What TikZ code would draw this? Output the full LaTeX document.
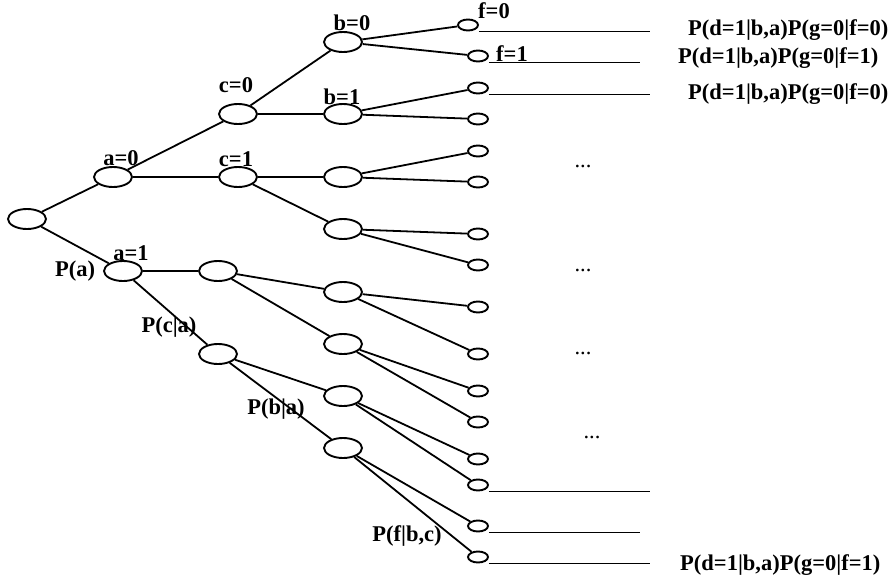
\documentclass[tikz,border=0pt]{standalone}
\usepackage{fontspec}
\setmainfont{Liberation Serif}
\usetikzlibrary{shapes.geometric}
\tikzset{
  bignode/.style={ellipse,draw,line width=1.9pt,minimum width=38pt,minimum height=20pt,inner sep=0pt},
  leaf/.style={ellipse,draw,line width=1.9pt,minimum width=20pt,minimum height=11pt,inner sep=0pt},
  lbl/.style={font=\fontsize{22.5}{26}\selectfont\bfseries,inner sep=0pt},
  dots/.style={font=\fontsize{22.5}{26}\selectfont,inner sep=0pt},
  branch/.style={line width=1.8pt}
}
\begin{document}
\begin{tikzpicture}[x=1pt,y=-1pt]
\useasboundingbox (0,0) rectangle (895,584);

\node[bignode] (r) at (27,219) {};
\node[bignode] (a0) at (113,177) {};
\node[bignode] (a1) at (123,271) {};
\node[bignode] (c0) at (238,114) {};
\node[bignode] (c1) at (238,177) {};
\node[bignode] (d0) at (218,271) {};
\node[bignode] (d1) at (218,354) {};
\node[bignode] (n1) at (343,42) {};
\node[bignode] (n2) at (343,114) {};
\node[bignode] (n3) at (343,177) {};
\node[bignode] (n4) at (343,229) {};
\node[bignode] (n5) at (343,292) {};
\node[bignode] (n6) at (343,344) {};
\node[bignode] (n7) at (343,396) {};
\node[bignode] (n8) at (343,448) {};

\node[leaf] (l1) at (468,25) {};
\node[leaf] (l2) at (478,56) {};
\node[leaf] (l3) at (478,88) {};
\node[leaf] (l4) at (478,119) {};
\node[leaf] (l5) at (478,151) {};
\node[leaf] (l6) at (478,182) {};
\node[leaf] (l7) at (478,234) {};
\node[leaf] (l8) at (478,265) {};
\node[leaf] (l9) at (478,307) {};
\node[leaf] (l10) at (478,354) {};
\node[leaf] (l11) at (478,391) {};
\node[leaf] (l12) at (478,422) {};
\node[leaf] (l13) at (478,459) {};
\node[leaf] (l14) at (478,485) {};
\node[leaf] (l15) at (478,526) {};
\node[leaf] (l16) at (478,557) {};

\draw [branch] (r) -- (a0);
\draw [branch] (r) -- (a1);
\draw [branch] (a0) -- (c0);
\draw [branch] (a0) -- (c1);
\draw [branch] (a1) -- (d0);
\draw [branch] (a1) -- (d1);
\draw [branch] (c0) -- (n1);
\draw [branch] (c0) -- (n2);
\draw [branch] (c1) -- (n3);
\draw [branch] (c1) -- (n4);
\draw [branch] (d0) -- (n5);
\draw [branch] (d0) -- (n6);
\draw [branch] (d1) -- (n7);
\draw [branch] (d1) -- (n8);
\draw [branch] (n1) -- (l1);
\draw [branch] (n1) -- (l2);
\draw [branch] (n2) -- (l3);
\draw [branch] (n2) -- (l4);
\draw [branch] (n3) -- (l5);
\draw [branch] (n3) -- (l6);
\draw [branch] (n4) -- (l7);
\draw [branch] (n4) -- (l8);
\draw [branch] (n5) -- (l9);
\draw [branch] (n5) -- (l10);
\draw [branch] (n6) -- (l11);
\draw [branch] (n6) -- (l12);
\draw [branch] (n7) -- (l13);
\draw [branch] (n7) -- (l14);
\draw [branch] (n8) -- (l15);
\draw [branch] (n8) -- (l16);

\coordinate (far) at (650,0);
\coordinate (near) at (640,0);
\draw [branch] (l1.east |- l1.south) -- (far |- l1.south);
\draw [branch] (l2.east |- l2.south) -- (near |- l2.south);
\draw [branch] (l3.east |- l3.south) -- (far |- l3.south);
\draw [branch] (l14.east |- l14.south) -- (far |- l14.south);
\draw [branch] (l15.east |- l15.south) -- (near |- l15.south);
\draw [branch] (l16.east |- l16.south) -- (far |- l16.south);

\node[lbl] (ta0) at (121,158) {a=0};
\node[lbl] (ta1) at (131,253) {a=1};
\node[lbl] (tc0) at (236,85) {c=0};
\node[lbl] (tc1) at (236,159) {c=1};
\node[lbl] (tb0) at (352,23) {b=0};
\node[lbl] (tb1) at (342,97) {b=1};
\node[lbl] (tf0) at (494,11) {f=0};
\node[lbl] (tf1) at (512,54) {f=1};
\node[lbl] (pa) at (75,271) {P(a)};
\node[lbl] (pca) at (169,327) {P(c|a)};
\node[lbl] (pba) at (276,409) {P(b|a)};
\node[lbl] (pfbc) at (407,536) {P(f|b,c)};

\node[lbl,anchor=west] (q1) at (688,30) {P(d=1|b,a)P(g=0|f=0)};
\node[lbl,anchor=west] (q2) at (678,58) {P(d=1|b,a)P(g=0|f=1)};
\node[lbl,anchor=west] (q3) at (688,94) {P(d=1|b,a)P(g=0|f=0)};
\node[lbl,anchor=west] (q4) at (680,565) {P(d=1|b,a)P(g=0|f=1)};

\node[dots] (s1) at (583,166) {...};
\node[dots] (s2) at (583,270) {...};
\node[dots] (s3) at (583,353) {...};
\node[dots] (s4) at (592,437) {...};
\end{tikzpicture}
\end{document}
